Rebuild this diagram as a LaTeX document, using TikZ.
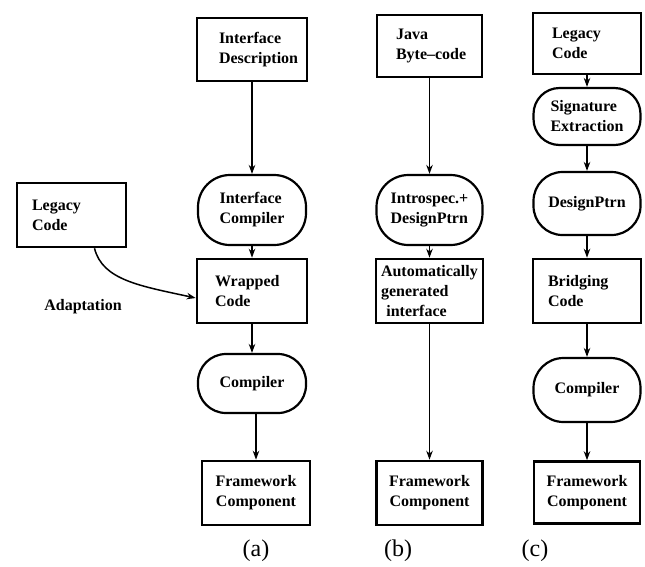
\documentclass[tikz,border=0pt]{standalone}
\usepackage{fontspec}
\setmainfont{Liberation Serif}
\usetikzlibrary{arrows.meta}
\begin{document}
\begin{tikzpicture}[x=1pt,y=-1pt,
  txt/.style={font=\fontsize{16}{20}\selectfont\bfseries, align=left},
  boxnode/.style={txt, draw, line width=2.6pt, rectangle, inner ysep=0pt},
  stad/.style={txt, draw, line width=2.2pt, inner sep=0pt, minimum width=108pt},
  arr/.style={line width=1.5pt, -{Stealth[length=9pt,width=6.5pt]}},
  captext/.style={font=\fontsize{24}{28}\selectfont}
]
\useasboundingbox (0,0) rectangle (645,566);

% column (a)
\node[boxnode, text width=66pt, inner xsep=22pt, minimum height=63pt] (idesc) at (252,49.5) {Interface\\Description};
\node[stad, minimum height=70pt, rounded corners=32pt] (icomp) at (252,210) {Interface\\Compiler};
\node[boxnode, text width=74pt, inner xsep=18pt, minimum height=64pt] (wrapped) at (252,291) {Wrapped\\Code};
\node[stad, minimum height=59pt, rounded corners=28pt] (compA) at (252,383.5) {Compiler};
\node[boxnode, text width=90pt, inner xsep=9pt, minimum height=64pt, align=center] (fwA) at (256,493) {Framework\\Component};
\node[boxnode, text width=79pt, inner xsep=15pt, minimum height=64pt] (legA) at (71.5,215) {Legacy\\Code};
\node[txt] (adapt) at (83,307) {Adaptation};
\node[captext] (la) at (256,551) {(a)};

\draw[arr] (idesc) -- (icomp);
\draw[arr] (icomp) -- (wrapped);
\draw[arr] (wrapped) -- (compA);
\draw[arr] (compA.south -| fwA.north) -- (fwA.north);
\draw[arr] ([xshift=23pt]legA.south) .. controls +(8pt,-32pt) and +(-55pt,12pt) .. ([yshift=-7pt]wrapped.west);

% column (b)
\node[boxnode, text width=67pt, inner xsep=19pt, minimum height=62pt] (java) at (429.5,46) {Java\\\mbox{Byte--code}};
\node[stad, minimum width=106pt, minimum height=70pt, rounded corners=32pt] (intro) at (429.5,210) {Introspec.+\\DesignPtrn};
\node[boxnode, text width=97pt, inner xsep=5pt, minimum height=64pt] (auto) at (429.5,291) {Automatically\\generated\\\ interface};
\node[boxnode, text width=90pt, inner xsep=8pt, minimum height=64pt, align=center] (fwB) at (429.5,493) {Framework\\Component};
\node[captext] (lb) at (398,551) {(b)};

\draw[arr] (java) -- (intro);
\draw[arr] (intro) -- (auto);
\draw[arr] (auto) -- (fwB);

% column (c)
\node[boxnode, text width=70pt, inner xsep=19pt, minimum height=61pt] (legC) at (587,43.5) {Legacy\\Code};
\node[stad, minimum width=107pt, minimum height=57pt, rounded corners=26pt] (sig) at (587,116.5) {Signature\\Extraction};
\node[stad, minimum width=107pt, minimum height=63pt, rounded corners=29pt] (dp) at (587,203.5) {DesignPtrn};
\node[boxnode, text width=78pt, inner xsep=15pt, minimum height=64pt] (bridge) at (587,291) {Bridging\\Code};
\node[stad, minimum width=107pt, minimum height=64pt, rounded corners=30pt] (compC) at (587,390) {Compiler};
\node[boxnode, text width=90pt, inner xsep=8pt, minimum height=62pt, align=center] (fwC) at (587,492.5) {Framework\\Component};
\node[captext] (lc) at (535,551) {(c)};

\draw[arr] (legC) -- (sig);
\draw[arr] (sig) -- (dp);
\draw[arr] (dp) -- (bridge);
\draw[arr] (bridge) -- (compC);
\draw[arr] (compC) -- (fwC);
\end{tikzpicture}
\end{document}
